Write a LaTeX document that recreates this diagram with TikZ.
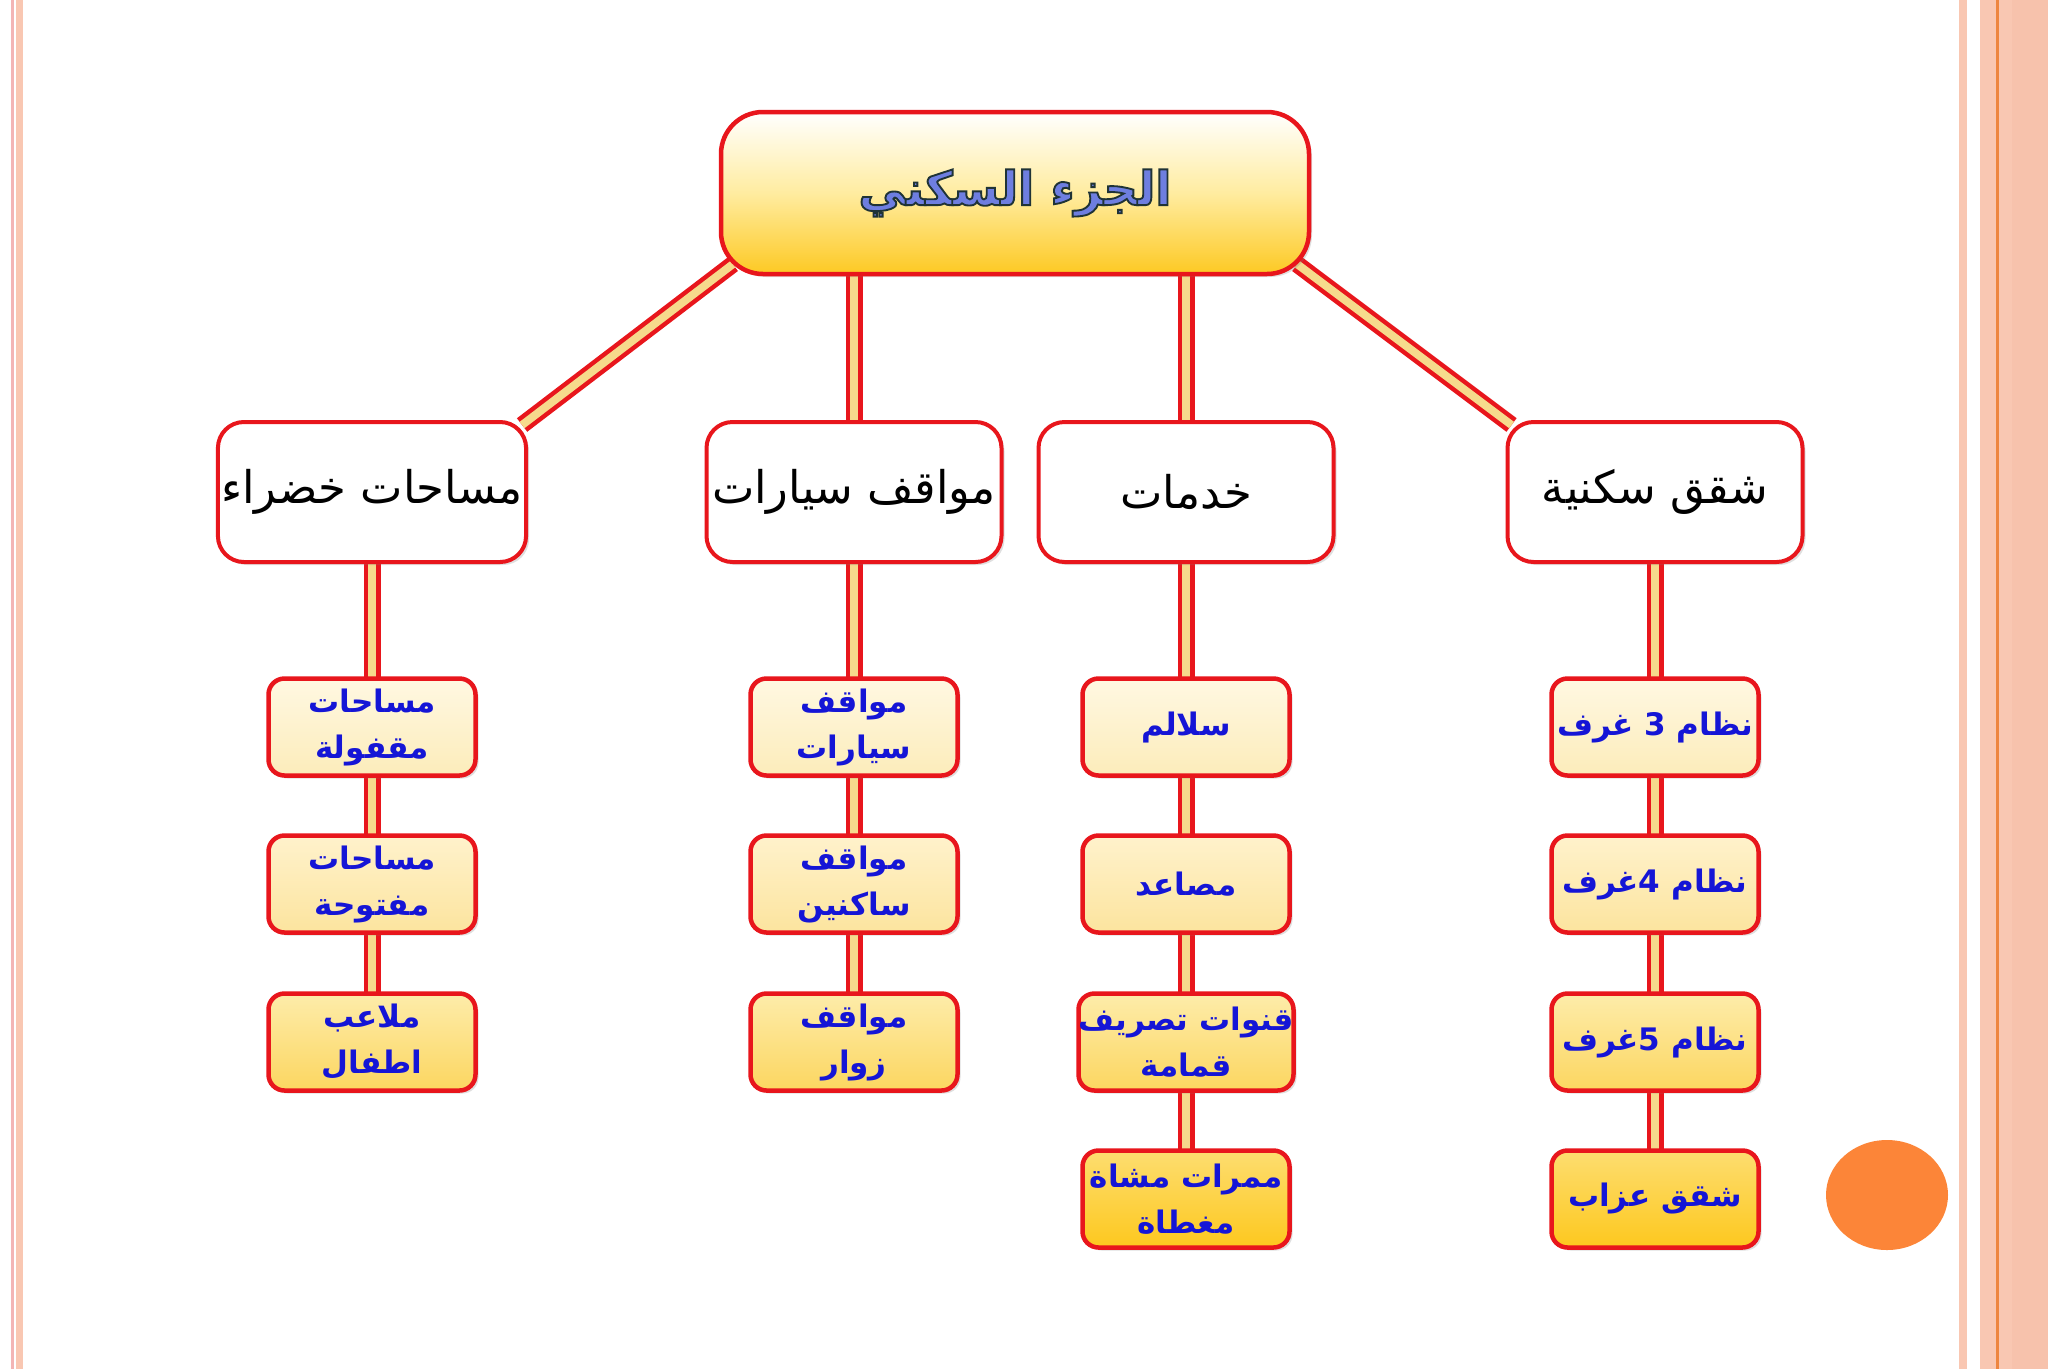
\documentclass[tikz,border=0pt]{standalone}
\usepackage{fontspec}
\TeXXeTstate=1
\newfontfamily\arabicfont[Script=Arabic]{DejaVu Sans}
\newfontfamily\arabicol[Script=Arabic,FakeBold=4]{DejaVu Sans Bold}
\usetikzlibrary{shadows,backgrounds}
\definecolor{boxred}{HTML}{E8161C}
\definecolor{peach}{HTML}{F9C7B2}
\definecolor{peachd}{HTML}{F7C2AC}
\definecolor{pinkline}{HTML}{F3B5B5}
\definecolor{lineorange}{HTML}{EE8640}
\definecolor{dotorange}{HTML}{FC8538}
\definecolor{txtblue}{HTML}{1515D6}
\definecolor{gold}{HTML}{FDC923}
\definecolor{barin}{HTML}{F6DA8C}
\definecolor{topfill}{HTML}{6E7EE0}
\begin{document}
\begin{tikzpicture}[x=1pt,y=-1pt,
  topbox/.style={draw=boxred, line width=4.5pt, rounded corners=42pt,
    minimum width=588pt, minimum height=162pt,
    top color=white, bottom color=gold, middle color={rgb,255:red,255;green,236;blue,160},
    drop shadow={opacity=0.25, shadow xshift=3pt, shadow yshift=-3pt}},
  midbox/.style={draw=boxred, line width=4pt, rounded corners=26pt, fill=white,
    minimum width=295pt, minimum height=140pt, text=black,
    font=\arabicfont\fontsize{45}{52}\selectfont,
    drop shadow={opacity=0.25, shadow xshift=3pt, shadow yshift=-3pt}},
  leaf/.style={draw=boxred, line width=4.5pt, rounded corners=16pt,
    minimum width=207pt, minimum height=97pt, text=txtblue, align=center,
    inner sep=0pt,
    font=\arabicfont\bfseries\fontsize{31}{46}\selectfont,
    drop shadow={opacity=0.25, shadow xshift=3pt, shadow yshift=-3pt}},
  rowa/.style={top color={rgb,255:red,255;green,248;blue,226}, bottom color={rgb,255:red,252;green,236;blue,186}},
  rowb/.style={top color={rgb,255:red,255;green,242;blue,204}, bottom color={rgb,255:red,252;green,228;blue,158}},
  rowc/.style={top color={rgb,255:red,253;green,236;blue,170}, bottom color={rgb,255:red,252;green,214;blue,96}},
  rowd/.style={top color={rgb,255:red,253;green,221;blue,112}, bottom color={rgb,255:red,253;green,200;blue,30}},
  bar/.style={draw=boxred, line width=4.5pt, double=barin, double distance=8pt}
]
\useasboundingbox (0,0) rectangle (2048,1369);
\begin{pgfonlayer}{background}
\fill[white] (0,0) rectangle (2048,1369);
\fill[pinkline] (11,0) rectangle (13.5,1369);
\fill[peach] (16,0) rectangle (23,1369);
\fill[peach] (1959,0) rectangle (1967,1369);
\fill[peach] (1980,0) rectangle (2048,1369);
\fill[peachd] (2012,0) rectangle (2048,1369);
\fill[lineorange] (1996,0) rectangle (1998.5,1369);
\end{pgfonlayer}
\fill[dotorange] (1887,1195) ellipse [x radius=61, y radius=55];

% top node with outlined text
\node[topbox, text=topfill, font=\arabicol\fontsize{47}{56}\selectfont] (top) at (1015,193)
  {\special{pdf:code 0.12 0.20 0.21 RG}\beginR الجزء السكني\endR};

% second level
\node[midbox] (g1) at (372,492) {\beginR مساحات خضراء\endR};
\node[midbox] (g2) at (854,492) {\beginR مواقف سيارات\endR};
\node[midbox] (g3) at (1186,492) {\beginR خدمات\endR};
\node[midbox] (g4) at (1655,492) {\beginR شقق سكنية\endR};

% leaves
\node[leaf,rowa] (a1) at (372,727) {\beginR مساحات\endR\\\beginR مقفولة\endR};
\node[leaf,rowb] (a2) at (372,884) {\beginR مساحات\endR\\\beginR مفتوحة\endR};
\node[leaf,rowc] (a3) at (372,1042) {\beginR ملاعب\endR\\\beginR اطفال\endR};

\node[leaf,rowa] (b1) at (854,727) {\beginR مواقف\endR\\\beginR سيارات\endR};
\node[leaf,rowb] (b2) at (854,884) {\beginR مواقف\endR\\\beginR ساكنين\endR};
\node[leaf,rowc] (b3) at (854,1042) {\beginR مواقف\endR\\\beginR زوار\endR};

\node[leaf,rowa] (c1) at (1186,727) {\beginR سلالم\endR};
\node[leaf,rowb] (c2) at (1186,884) {\beginR مصاعد\endR};
\node[leaf,rowc] (c3) at (1186,1042) {\beginR قنوات تصريف\endR\\\beginR قمامة\endR};
\node[leaf,rowd] (c4) at (1186,1199) {\beginR ممرات مشاة\endR\\\beginR مغطاة\endR};

\node[leaf,rowa] (d1) at (1655,727) {\beginR نظام 3 غرف\endR};
\node[leaf,rowb] (d2) at (1655,884) {\beginR نظام 4غرف\endR};
\node[leaf,rowc] (d3) at (1655,1042) {\beginR نظام 5غرف\endR};
\node[leaf,rowd] (d4) at (1655,1199) {\beginR شقق عزاب\endR};

% connectors
\begin{pgfonlayer}{background}
  \draw[bar] ([xshift=14pt,yshift=12pt]top.south west) -- ([xshift=-6pt,yshift=-5pt]g1.north east);
  \draw[bar] ([xshift=-14pt,yshift=12pt]top.south east) -- ([xshift=6pt,yshift=-5pt]g4.north west);
  \draw[bar] (g2.center |- top.center) -- (g2.center);
  \draw[bar] (g3.center |- top.center) -- (g3.center);
  \draw[bar] (g1.center) -- (a1.center) -- (a2.center) -- (a3.center);
  \draw[bar] (g2.center) -- (b1.center) -- (b2.center) -- (b3.center);
  \draw[bar] (g3.center) -- (c1.center) -- (c2.center) -- (c3.center) -- (c4.center);
  \draw[bar] (g4.center) -- (d1.center) -- (d2.center) -- (d3.center) -- (d4.center);
\end{pgfonlayer}
\end{tikzpicture}
\end{document}
